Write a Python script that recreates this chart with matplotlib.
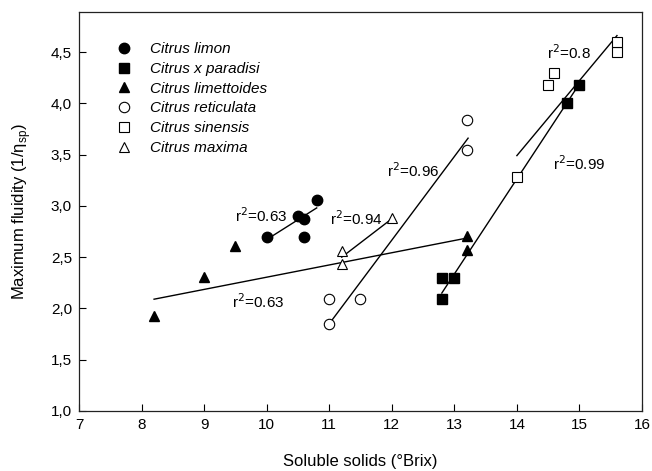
import matplotlib
matplotlib.use("Agg")
import matplotlib.pyplot as plt

plt.rcParams['font.family'] = ['Liberation Sans', 'DejaVu Sans']

# ---- data ----
limon_x = [10.0, 10.5, 10.6, 10.6, 10.8]
limon_y = [2.70, 2.90, 2.87, 2.70, 3.06]

paradisi_x = [12.8, 13.0, 12.8, 14.8, 15.0]
paradisi_y = [2.30, 2.30, 2.09, 4.00, 4.18]

limettoides_x = [8.2, 9.0, 9.5, 13.2, 13.2]
limettoides_y = [1.93, 2.31, 2.61, 2.71, 2.57]

reticulata_x = [11.0, 11.5, 11.0, 13.2, 13.2]
reticulata_y = [2.09, 2.09, 1.85, 3.84, 3.54]

sinensis_x = [14.0, 14.5, 14.6, 15.6, 15.6]
sinensis_y = [3.28, 4.18, 4.30, 4.50, 4.60]

maxima_x = [11.2, 11.2, 12.0]
maxima_y = [2.56, 2.43, 2.88]

# regression lines (start/end x and y)
fit_limon_x = [10.1, 10.8]
fit_limon_y = [2.71, 2.98]
fit_limettoides_x = [8.2, 13.15]
fit_limettoides_y = [2.09, 2.68]
fit_maxima_x = [11.2, 11.97]
fit_maxima_y = [2.50, 2.86]
fit_reticulata_x = [11.0, 13.22]
fit_reticulata_y = [1.85, 3.66]
fit_paradisi_x = [12.8, 15.0]
fit_paradisi_y = [2.15, 4.19]
fit_sinensis_x = [14.0, 15.6]
fit_sinensis_y = [3.49, 4.66]

# annotations: label, x (left edge), y (vertical centre)
ann_labels = [r'r$^2$=0.63', r'r$^2$=0.94', r'r$^2$=0.63', r'r$^2$=0.96', r'r$^2$=0.8', r'r$^2$=0.99']
ann_x = [9.50, 11.02, 9.45, 11.92, 14.48, 14.58]
ann_y = [2.90, 2.88, 2.07, 3.34, 4.49, 3.41]

x_ticks = [7, 8, 9, 10, 11, 12, 13, 14, 15, 16]
y_ticks = [1.0, 1.5, 2.0, 2.5, 3.0, 3.5, 4.0, 4.5]
y_ticklabels = ['1,0', '1,5', '2,0', '2,5', '3,0', '3,5', '4,0', '4,5']

# ---- figure ----
fig = plt.figure(figsize=(6.52, 4.71), dpi=100)
ax = fig.add_axes([79/652, 1-411/471, (642-79)/652, (411-12)/471])

ms = 7.5
ax.plot(limon_x, limon_y, 'o', color='black', ms=ms, label='Citrus limon', zorder=3)
ax.plot(paradisi_x, paradisi_y, 's', color='black', ms=ms-1, label='Citrus x paradisi', zorder=3)
ax.plot(limettoides_x, limettoides_y, '^', color='black', ms=ms, label='Citrus limettoides', zorder=3)
ax.plot(reticulata_x, reticulata_y, 'o', mfc='white', mec='black', mew=0.8, ms=ms, label='Citrus reticulata', zorder=3)
ax.plot(sinensis_x, sinensis_y, 's', mfc='white', mec='black', mew=0.8, ms=ms-1, label='Citrus sinensis', zorder=3)
ax.plot(maxima_x, maxima_y, '^', mfc='white', mec='black', mew=0.8, ms=ms, label='Citrus maxima', zorder=3)

for fx, fy in [(fit_limon_x, fit_limon_y), (fit_limettoides_x, fit_limettoides_y),
               (fit_maxima_x, fit_maxima_y), (fit_reticulata_x, fit_reticulata_y),
               (fit_paradisi_x, fit_paradisi_y), (fit_sinensis_x, fit_sinensis_y)]:
    ax.plot(fx, fy, '-', color='black', lw=1.0, zorder=2)

for lab, x, y in zip(ann_labels, ann_x, ann_y):
    ax.text(x, y, lab, fontsize=11, ha='left', va='center', zorder=4)

ax.set_xlim(7, 16)
ax.set_ylim(1.0, 4.89)
ax.set_xticks(x_ticks)
ax.set_xticklabels([str(t) for t in x_ticks])
ax.set_yticks(y_ticks)
ax.set_yticklabels(y_ticklabels)
ax.tick_params(direction='in', length=5, width=0.8, labelsize=11, colors='black', pad=5)
for s in ax.spines.values():
    s.set_linewidth(0.9)
    s.set_color('#222222')

ax.set_xlabel('Soluble solids (°Brix)', fontsize=12, labelpad=16)
ax.set_ylabel('Maximum fluidity (1/η$_{\\mathregular{sp}}$)', fontsize=12, labelpad=13)

leg = ax.legend(loc='upper left', bbox_to_anchor=(0.052, 0.94), frameon=False,
                prop={'style': 'italic', 'size': 11}, handletextpad=1.15,
                labelspacing=0.38, borderaxespad=0, handlelength=1.2)

fig.savefig('out.png', dpi=100)
